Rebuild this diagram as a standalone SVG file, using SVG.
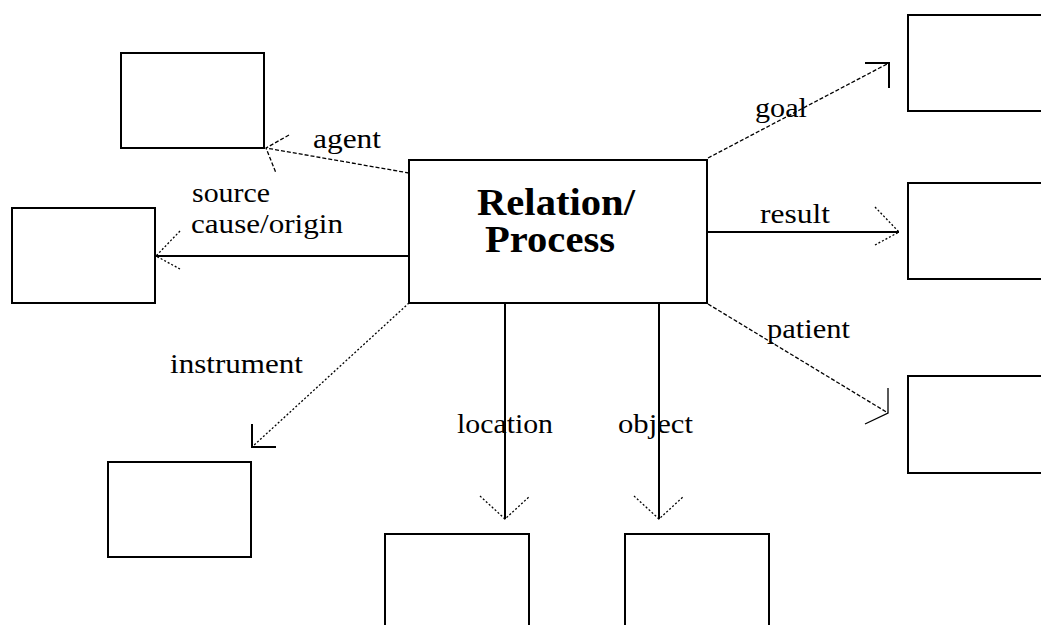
<svg xmlns="http://www.w3.org/2000/svg" width="1041" height="625" viewBox="0 0 1041 625">
<style>
.box{fill:#fff;stroke:#000;stroke-width:2;shape-rendering:crispEdges}
.ln{fill:none;stroke:#000;stroke-width:1.3}
.hv{shape-rendering:crispEdges;stroke-width:1.5}
.dash{stroke-dasharray:4,2}
.dot{stroke-dasharray:2,2}
.lbl{font-family:"Liberation Serif","Times New Roman",serif;font-size:28px;fill:#000}
.title{font-family:"Liberation Serif","Times New Roman",serif;font-size:37px;font-weight:bold;fill:#000}
</style>
<rect width="1041" height="625" fill="#fff"/>
<g id="connectors">
  <!-- agent -->
  <line class="ln dash" x1="409" y1="173" x2="266" y2="148"/>
  <polyline class="ln dash" points="289,135 266,148 276,173"/>
  <!-- source -->
  <line class="ln hv" x1="409" y1="256" x2="156" y2="256"/>
  <polyline class="ln dot" points="180,231 156,256 180,269"/>
  <!-- instrument -->
  <line class="ln dot" x1="409" y1="303" x2="252" y2="447"/>
  <polyline class="ln hv" points="252,424 252,447 276,447"/>
  <!-- location -->
  <line class="ln hv" x1="505" y1="303" x2="505" y2="519"/>
  <polyline class="ln dot" points="480,496 505,519 530,496"/>
  <!-- object -->
  <line class="ln hv" x1="659" y1="303" x2="659" y2="519"/>
  <polyline class="ln dot" points="634,496 659,519 684,496"/>
  <!-- goal -->
  <line class="ln dash" x1="708" y1="158" x2="889" y2="63"/>
  <polyline class="ln hv" points="865,63 889,63 889,88"/>
  <!-- result -->
  <line class="ln hv" x1="707" y1="232" x2="899" y2="232"/>
  <polyline class="ln dot" points="875,207 899,232 875,245"/>
  <!-- patient -->
  <line class="ln dash" x1="708" y1="304" x2="888" y2="413"/>
  <polyline class="ln" points="888,388 888,413 865,424"/>
</g>
<g id="labels">
  <text class="lbl" x="313" y="148" textLength="68" lengthAdjust="spacingAndGlyphs">agent</text>
  <text class="lbl" x="192" y="202" textLength="78" lengthAdjust="spacingAndGlyphs">source</text>
  <text class="lbl" x="191" y="233" textLength="152" lengthAdjust="spacingAndGlyphs">cause/origin</text>
  <text class="lbl" x="170" y="373" textLength="133" lengthAdjust="spacingAndGlyphs">instrument</text>
  <text class="lbl" x="457" y="433" textLength="96" lengthAdjust="spacingAndGlyphs">location</text>
  <text class="lbl" x="618" y="433" textLength="75" lengthAdjust="spacingAndGlyphs">object</text>
  <text class="lbl" x="755" y="117" textLength="52" lengthAdjust="spacingAndGlyphs">goal</text>
  <text class="lbl" x="760" y="223" textLength="70" lengthAdjust="spacingAndGlyphs">result</text>
  <text class="lbl" x="767" y="338" textLength="83" lengthAdjust="spacingAndGlyphs">patient</text>
</g>
<g id="process">
  <rect class="box" x="409" y="160" width="298" height="143"/>
  <text class="title" x="477" y="215" textLength="158" lengthAdjust="spacingAndGlyphs">Relation/</text>
  <text class="title" x="485" y="252" textLength="130" lengthAdjust="spacingAndGlyphs">Process</text>
</g>
<g id="agent-box"><rect class="box" x="121" y="53" width="143" height="95"/></g>
<g id="source-box"><rect class="box" x="12" y="208" width="143" height="95"/></g>
<g id="instrument-box"><rect class="box" x="108" y="462" width="143" height="95"/></g>
<g id="location-box"><rect class="box" x="385" y="534" width="144" height="120"/></g>
<g id="object-box"><rect class="box" x="625" y="534" width="144" height="120"/></g>
<g id="goal-box"><rect class="box" x="908" y="15" width="160" height="96"/></g>
<g id="result-box"><rect class="box" x="908" y="183" width="160" height="96"/></g>
<g id="patient-box"><rect class="box" x="908" y="376" width="160" height="97"/></g>
</svg>
